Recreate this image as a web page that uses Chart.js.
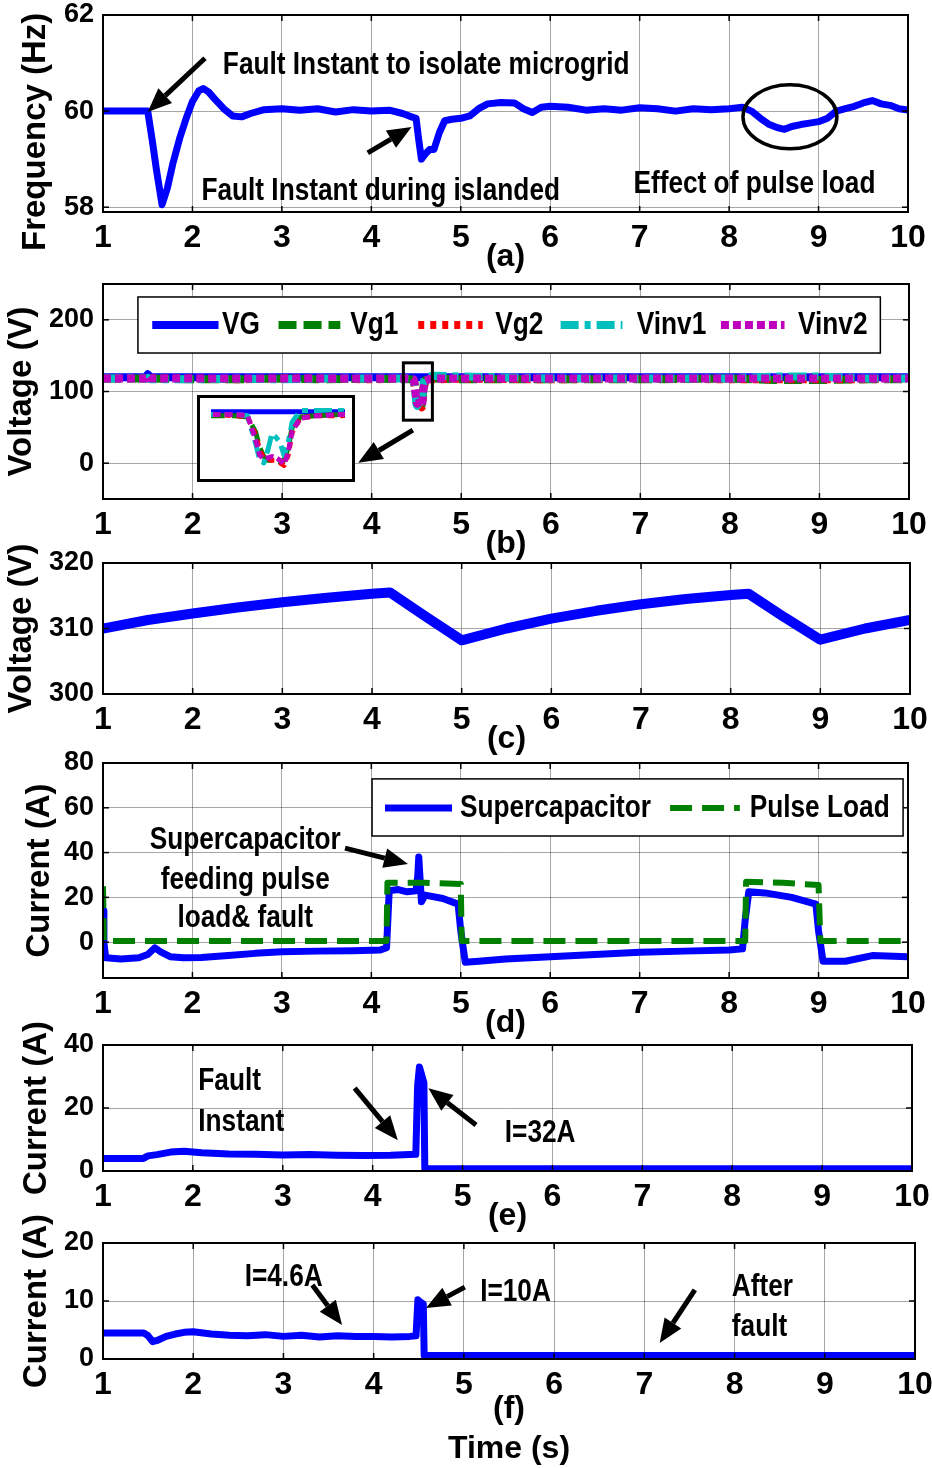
<!DOCTYPE html>
<html>
<head>
<meta charset="utf-8">
<script src="https://cdn.jsdelivr.net/npm/chart.js@4.4.0/dist/chart.umd.min.js"></script>
<style>
  html, body { margin: 0; padding: 0; background: #fff; }
  body { width: 932px; height: 1468px; position: relative; overflow: hidden; }
  #inset { position: absolute; left: 197px; top: 395px; width: 158px; height: 87px;
           box-sizing: border-box; border: 3px solid #000; background: #fff; }
</style>
</head>
<body>
<script>
const xTicks = [1, 2, 3, 4, 5, 6, 7, 8, 9, 10];

// (a) frequency
const tA = [1.0, 1.5, 1.55, 1.6, 1.66, 1.72, 1.78, 1.86, 1.93, 2.0, 2.07, 2.12, 2.18, 2.25, 2.35, 2.45, 2.55, 2.65, 2.8, 3.0,
  3.2, 3.4, 3.6, 3.8, 4.0, 4.2, 4.35, 4.45, 4.5, 4.53, 4.56, 4.6, 4.65, 4.7, 4.76, 4.82, 4.9, 5.0, 5.1, 5.2,
  5.3, 5.45, 5.6, 5.7, 5.8, 5.9, 6.0, 6.2, 6.4, 6.6, 6.8, 7.0, 7.2, 7.4, 7.6, 7.8, 8.0, 8.15, 8.25, 8.35,
  8.45, 8.55, 8.62, 8.7, 8.8, 8.9, 9.0, 9.1, 9.2, 9.3, 9.4, 9.5, 9.6, 9.7, 9.8, 9.9, 10.0];
const fA = [60.0, 60.0, 59.4, 58.75, 58.05, 58.4, 58.9, 59.45, 59.85, 60.2, 60.42, 60.47, 60.4, 60.25, 60.05, 59.9, 59.88, 59.95, 60.03, 60.05,
  60.02, 60.05, 59.98, 60.03, 60.0, 60.02, 59.95, 59.88, 59.85, 59.4, 59.0, 59.1, 59.2, 59.2, 59.55, 59.8, 59.83, 59.85, 59.9, 60.05,
  60.15, 60.18, 60.17, 60.05, 59.97, 60.08, 60.1, 60.08, 60.02, 60.05, 60.02, 60.07, 60.05, 60.0, 60.05, 60.03, 60.05, 60.08, 60.0, 59.85,
  59.72, 59.65, 59.62, 59.68, 59.72, 59.75, 59.78, 59.85, 60.0, 60.05, 60.1, 60.17, 60.22, 60.15, 60.12, 60.05, 60.02];
const yTicksA = [58, 60, 62];

// (b) ac voltages
const tB = [1.0, 1.48, 1.5, 1.53, 2.0, 2.5, 3.0, 3.5, 4.0, 4.38, 4.44, 4.47, 4.49, 4.5, 4.51, 4.52, 4.53, 4.54, 4.55, 4.56,
  4.57, 4.58, 4.6, 4.64, 4.7, 5.0, 6.0, 7.0, 8.0, 8.5, 9.0, 9.5, 10.0];
const vG = [120, 120, 124, 120, 120, 120, 120, 120, 120, 120, 120, 120, 120, 120, 120, 120, 120, 120, 120, 120,
  120, 120, 120, 120, 120, 120, 120, 120, 120, 120, 120, 120, 120];
const vg1 = [118, 118, 121, 118, 117, 117, 118, 117, 118, 117, 117, 116, 104, 92, 85, 82, 82, 81, 81, 82,
  92, 108, 116, 117, 118, 117, 117, 117, 118, 116, 116, 117, 117];
const vg2 = [118, 118, 120, 118, 118, 117, 118, 118, 117, 118, 117, 116, 102, 90, 84, 83, 82, 82, 80, 78,
  86, 104, 115, 117, 117, 118, 117, 118, 117, 117, 117, 117, 118];
const vinv1 = [118, 118, 119, 117, 117, 118, 117, 118, 118, 118, 118, 117, 95, 82, 80, 90, 103, 100, 96, 86,
  96, 112, 121, 121, 122, 121, 118, 118, 118, 121, 121, 118, 118];
const vinv2 = [118, 118, 122, 118, 118, 118, 118, 118, 118, 118, 118, 117, 98, 86, 83, 84, 85, 84, 82, 79,
  88, 105, 115, 117, 118, 118, 118, 118, 118, 118, 118, 118, 118];
const yTicksB = [0, 100, 200];

// (c) dc link voltage
const tC = [1.0, 1.5, 2.0, 2.5, 3.0, 3.5, 4.0, 4.2, 4.6, 5.0, 5.5, 6.0, 6.5, 7.0, 7.5, 8.0, 8.2, 8.6, 9.0, 9.5, 10.0];
const vC = [310.0, 311.3, 312.3, 313.2, 314.0, 314.7, 315.3, 315.5, 311.8, 308.2, 310.0, 311.5, 312.7, 313.7, 314.5, 315.1, 315.3, 311.7, 308.3, 310.0, 311.3];
const yTicksC = [300, 310, 320];

// (d) supercapacitor and pulse load currents
const tD = [1.0, 1.01, 1.03, 1.2, 1.4, 1.5, 1.58, 1.65, 1.75, 1.9, 2.1, 2.4, 2.7, 3.0, 3.4, 3.8, 4.1, 4.17, 4.2, 4.3,
  4.4, 4.5, 4.52, 4.53, 4.55, 4.56, 4.6, 4.8, 4.97, 5.0, 5.05, 5.2, 5.5, 6.0, 6.5, 7.0, 7.5, 8.0, 8.15, 8.18,
  8.22, 8.4, 8.7, 8.97, 9.0, 9.05, 9.3, 9.6, 10.0];
const iSC = [14, 0, -7, -7.5, -7, -5.5, -2.5, -4.5, -6.5, -7, -6.8, -6, -5, -4.3, -4, -3.8, -3.5, -2.5, 23, 23.5,
  22.5, 23, 30, 38, 25, 18, 21, 19.5, 17, 5, -9, -8.5, -7.5, -6.5, -5.5, -4.5, -4, -3.5, -3, 10,
  22.5, 22, 20, 17, 5, -8.5, -8.5, -6, -6.5];
const tP = [1.0, 1.01, 4.17, 4.18, 4.6, 5.0, 5.01, 8.18, 8.19, 8.6, 9.0, 9.02, 10.0];
const iPL = [25, 0.5, 0.5, 26.5, 26.5, 26, 0.5, 0.5, 27, 26.5, 25.5, 0.5, 0.5];
const yTicksD = [0, 20, 40, 60, 80];

// (e) fault current
const tE = [1.0, 1.45, 1.5, 1.6, 1.75, 1.9, 2.1, 2.4, 2.7, 3.0, 3.3, 3.6, 3.9, 4.2, 4.48, 4.5, 4.52, 4.55, 4.57, 4.58,
  4.62, 5.0, 6.0, 7.0, 8.0, 9.0, 10.0];
const iE = [4.0, 4.0, 4.8, 5.2, 6.0, 6.3, 5.8, 5.4, 5.3, 5.1, 5.2, 5.0, 4.9, 5.0, 5.3, 27, 33, 30, 28, 0.8,
  0.7, 0.7, 0.7, 0.7, 0.7, 0.7, 0.7];
const yTicksE = [0, 20, 40];

// (f) current
const tF = [1.0, 1.45, 1.5, 1.55, 1.6, 1.7, 1.8, 1.9, 2.0, 2.2, 2.4, 2.6, 2.8, 3.0, 3.2, 3.4, 3.6, 3.8, 4.0, 4.2,
  4.4, 4.47, 4.49, 4.52, 4.55, 4.56, 4.6, 5.0, 6.0, 7.0, 8.0, 9.0, 10.0];
const iF = [4.5, 4.5, 4.0, 3.0, 3.2, 3.9, 4.3, 4.6, 4.7, 4.3, 4.1, 4.0, 4.2, 3.9, 4.1, 3.8, 4.0, 3.9, 3.9, 3.8,
  3.9, 4.0, 10.2, 9.8, 9.5, 0.6, 0.6, 0.6, 0.6, 0.6, 0.6, 0.6, 0.6];
const yTicksF = [0, 10, 20];

const NARROW = '"Liberation Sans Narrow", "Arial Narrow", "Liberation Sans", Arial, sans-serif';
const WIDE = '"Liberation Sans", Arial, sans-serif';
const GRID = 'rgba(0,0,0,0.35)';

// is a condensed face really there? if not, squeeze the notes by hand
const probe = document.createElement('canvas').getContext('2d');
probe.font = 'bold 40px "Liberation Sans Narrow", monospace';
const wN = probe.measureText('abcdefgh').width;
probe.font = 'bold 40px monospace';
const NARROW_OK = wN !== probe.measureText('abcdefgh').width;

const pts = (xs, ys) => xs.map((x, i) => ({ x: x, y: ys[i] }));

function seg(ctx, x1, y1, x2, y2) {
  ctx.beginPath(); ctx.moveTo(x1, y1); ctx.lineTo(x2, y2); ctx.stroke();
}

function label(ctx, s, x, y, align) {
  ctx.font = 'bold 32px ' + NARROW;
  ctx.fillStyle = '#000';
  ctx.textBaseline = 'middle';
  ctx.textAlign = align || 'left';
  if (NARROW_OK) {
    ctx.fillText(s, x, y);
  } else {
    ctx.save(); ctx.translate(x, y); ctx.scale(0.82, 1); ctx.fillText(s, 0, 0); ctx.restore();
  }
}

function arrow(ctx, x1, y1, x2, y2) {
  const ang = Math.atan2(y2 - y1, x2 - x1), L = 24, W = 10;
  const bx = x2 - L * Math.cos(ang), by = y2 - L * Math.sin(ang);
  ctx.strokeStyle = '#000'; ctx.fillStyle = '#000'; ctx.lineWidth = 5;
  seg(ctx, x1, y1, bx, by);
  ctx.beginPath();
  ctx.moveTo(x2, y2);
  ctx.lineTo(bx + W * Math.sin(ang), by - W * Math.cos(ang));
  ctx.lineTo(bx - W * Math.sin(ang), by + W * Math.cos(ang));
  ctx.closePath(); ctx.fill();
}

// frame, matlab-style inner ticks, legends and notes
const notesPlugin = {
  id: 'notes',
  afterDraw(chart, args, o) {
    const ctx = chart.ctx, a = chart.chartArea;
    const sx = chart.scales.x, sy = chart.scales.y;
    const X = v => sx.getPixelForValue(v), Y = v => sy.getPixelForValue(v);
    ctx.save();
    if (o.frame) {
      ctx.strokeStyle = '#000'; ctx.lineWidth = 1.5;
      sx.ticks.forEach(t => { const p = X(t.value); seg(ctx, p, a.bottom, p, a.bottom - 6); seg(ctx, p, a.top, p, a.top + 6); });
      sy.ticks.forEach(t => { const p = Y(t.value); seg(ctx, a.left, p, a.left + 6, p); seg(ctx, a.right, p, a.right - 6, p); });
      ctx.lineWidth = 2;
      ctx.strokeRect(a.left, a.top, a.width, a.height);
    }
    (o.ellipses || []).forEach(e => {
      ctx.strokeStyle = '#000'; ctx.lineWidth = 3.5;
      ctx.beginPath();
      ctx.ellipse(X(e[0]), Y(e[1]), Math.abs(X(e[0] + e[2]) - X(e[0])), Math.abs(Y(e[1] + e[3]) - Y(e[1])), 0, 0, Math.PI * 2);
      ctx.stroke();
    });
    (o.rects || []).forEach(r => {
      ctx.strokeStyle = '#000'; ctx.lineWidth = 3;
      ctx.strokeRect(X(r[0]), Y(r[1]), X(r[2]) - X(r[0]), Y(r[3]) - Y(r[1]));
    });
    if (o.legend) {
      const L = o.legend;
      const x1 = X(L.box[0]), y1 = Y(L.box[1]), x2 = X(L.box[2]), y2 = Y(L.box[3]);
      ctx.fillStyle = '#fff'; ctx.fillRect(x1, y1, x2 - x1, y2 - y1);
      ctx.strokeStyle = '#000'; ctx.lineWidth = 1.5; ctx.strokeRect(x1, y1, x2 - x1, y2 - y1);
      const ry = Y(L.row);
      L.items.forEach(it => {
        const ds = chart.data.datasets[it.ds];
        ctx.strokeStyle = ds.borderColor; ctx.lineWidth = ds.borderWidth;
        ctx.setLineDash(ds.borderDash || []);
        seg(ctx, X(it.from), ry, X(it.to), ry);
        ctx.setLineDash([]);
        label(ctx, ds.label, X(it.text), ry, 'left');
      });
    }
    (o.arrows || []).forEach(r => arrow(ctx, X(r[0]), Y(r[1]), X(r[2]), Y(r[3])));
    (o.texts || []).forEach(t => label(ctx, t.s, X(t.x), Y(t.y), t.align));
    ctx.restore();
  }
};

function panel(p) {
  const padTop = 40;
  const cv = document.createElement('canvas');
  cv.width = 932;
  cv.height = p.bottom - p.top + padTop + p.axisH;
  cv.style.cssText = 'position:absolute;left:0;top:' + (p.top - padTop) + 'px';
  document.body.appendChild(cv);
  return new Chart(cv, {
    type: 'line',
    data: { datasets: p.datasets },
    options: {
      responsive: false,
      animation: false,
      devicePixelRatio: 1,
      layout: { padding: { top: padTop, right: 932 - p.right, left: 0, bottom: 0 } },
      elements: {
        point: { radius: 0 },
        line: { tension: 0, borderJoinStyle: 'round', borderCapStyle: 'butt' }
      },
      plugins: { legend: { display: false }, tooltip: { enabled: false }, notes: p.notes },
      scales: {
        x: {
          type: 'linear', min: 1, max: 10,
          afterBuildTicks: s => { s.ticks = xTicks.map(v => ({ value: v })); },
          afterFit: s => { s.height = p.axisH; s.paddingLeft = 0; s.paddingRight = 0; },
          grid: { color: GRID, lineWidth: 1, drawTicks: false },
          border: { display: false },
          ticks: { color: '#000', padding: 7, autoSkip: false, maxRotation: 0,
                   font: { family: NARROW, size: 32, weight: 'bold' } },
          title: { display: true, text: p.xTitle, color: '#000',
                   font: { family: NARROW, size: 32, weight: 'bold', lineHeight: 1.25 },
                   padding: { top: 0, bottom: p.xTitlePad } }
        },
        y: {
          min: p.yMin, max: p.yMax,
          afterBuildTicks: s => { s.ticks = p.yTicks.map(v => ({ value: v })); },
          afterFit: s => { s.width = 103; s.paddingTop = 0; s.paddingBottom = 0; },
          grid: { color: GRID, lineWidth: 1, drawTicks: false },
          border: { display: false },
          ticks: { color: '#000', padding: 9, font: { family: WIDE, size: 27, weight: 'bold' } },
          title: { display: true, text: p.yTitle, color: '#000',
                   font: { family: WIDE, size: 33, weight: 'bold', lineHeight: 1.2 },
                   padding: { top: p.yTitleX - 19.8, bottom: 0 } }
        }
      }
    },
    plugins: [notesPlugin]
  });
}

function voltSets(w) {
  return [
    { label: 'VG', data: pts(tB, vG), borderColor: '#0000ff', borderWidth: w, order: 5 },
    { label: 'Vg1', data: pts(tB, vg1), borderColor: '#008000', borderWidth: w, borderDash: [18, 7], order: 4 },
    { label: 'Vg2', data: pts(tB, vg2), borderColor: '#ff0000', borderWidth: w, borderDash: [6, 6], order: 3 },
    { label: 'Vinv1', data: pts(tB, vinv1), borderColor: '#00bfbf', borderWidth: w, borderDash: [18, 6, 6, 6], order: 2 },
    { label: 'Vinv2', data: pts(tB, vinv2), borderColor: '#bf00bf', borderWidth: w, borderDash: [8, 4], order: 1 }
  ];
}

panel({
  top: 15, bottom: 212, right: 908, yMin: 57.9, yMax: 62, yTicks: yTicksA, axisH: 72, xTitlePad: 7,
  yTitle: 'Frequency (Hz)\u00a0\u00a0\u00a0\u00a0', yTitleX: 36, xTitle: '(a)',
  datasets: [{ label: 'Frequency', data: pts(tA, fA), borderColor: '#0000ff', borderWidth: 7 }],
  notes: {
    frame: true,
    texts: [
      { s: 'Fault Instant to isolate microgrid', x: 2.34, y: 60.96 },
      { s: 'Fault Instant during islanded', x: 2.10, y: 58.34 },
      { s: 'Effect of pulse load', x: 6.93, y: 58.48 }
    ],
    arrows: [[2.14, 61.1, 1.50, 59.98], [3.96, 59.13, 4.45, 59.67]],
    ellipses: [[8.68, 59.88, 0.525, 0.666]]
  }
});

panel({
  top: 284, bottom: 499, right: 909, yMin: -50, yMax: 250, yTicks: yTicksB, axisH: 72, xTitlePad: 7,
  yTitle: 'Voltage (V)', yTitleX: 22, xTitle: '(b)',
  datasets: voltSets(8),
  notes: {
    frame: true,
    rects: [[4.354, 140, 4.678, 60]],
    arrows: [[4.46, 46, 3.85, 0.5]],
    legend: {
      box: [1.39, 231.9, 9.68, 153.7], row: 192.8,
      items: [
        { ds: 0, from: 1.55, to: 2.29, text: 2.33 },
        { ds: 1, from: 2.96, to: 3.65, text: 3.76 },
        { ds: 2, from: 4.52, to: 5.24, text: 5.38 },
        { ds: 3, from: 6.11, to: 6.80, text: 6.96 },
        { ds: 4, from: 7.90, to: 8.61, text: 8.76 }
      ]
    }
  }
});

// zoomed inset of the voltage dip
const insetBox = document.createElement('div');
insetBox.id = 'inset';
const insetCv = document.createElement('canvas');
insetCv.width = 152; insetCv.height = 81;
insetBox.appendChild(insetCv);
document.body.appendChild(insetBox);
new Chart(insetCv, {
  type: 'line',
  data: { datasets: voltSets(5) },
  options: {
    responsive: false, animation: false, devicePixelRatio: 1,
    layout: { padding: { left: 11, right: 7, top: 10, bottom: 11 } },
    elements: { point: { radius: 0 }, line: { tension: 0, borderJoinStyle: 'round' } },
    plugins: { legend: { display: false }, tooltip: { enabled: false } },
    scales: {
      x: { type: 'linear', min: 4.38, max: 4.71, display: false },
      y: { min: 76, max: 123, display: false }
    }
  }
});

panel({
  top: 563, bottom: 694, right: 910, yMin: 300, yMax: 320, yTicks: yTicksC, axisH: 72, xTitlePad: 7,
  yTitle: 'Voltage (V)', yTitleX: 22, xTitle: '(c)',
  datasets: [{ label: 'Vdc', data: pts(tC, vC), borderColor: '#0000ff', borderWidth: 10 }],
  notes: { frame: true }
});

panel({
  top: 763, bottom: 978, right: 908, yMin: -16, yMax: 80, yTicks: yTicksD, axisH: 72, xTitlePad: 7,
  yTitle: 'Current (A)', yTitleX: 40, xTitle: '(d)',
  datasets: [
    { label: 'Supercapacitor', data: pts(tD, iSC), borderColor: '#0000ff', borderWidth: 7, order: 2 },
    { label: 'Pulse Load', data: pts(tP, iPL), borderColor: '#008000', borderWidth: 6, borderDash: [22, 10], order: 1 }
  ],
  notes: {
    frame: true,
    texts: [
      { s: 'Supercapacitor', x: 2.59, y: 45.6, align: 'center' },
      { s: 'feeding pulse', x: 2.59, y: 27.8, align: 'center' },
      { s: 'load& fault', x: 2.59, y: 10.8, align: 'center' }
    ],
    arrows: [[3.706, 42.0, 4.41, 34.9]],
    legend: {
      box: [4.008, 72.9, 9.945, 47.4], row: 59.9,
      items: [
        { ds: 0, from: 4.153, to: 4.902, text: 4.99 },
        { ds: 1, from: 7.34, to: 8.12, text: 8.23 }
      ]
    }
  }
});

panel({
  top: 1045, bottom: 1171, right: 912, yMin: 0, yMax: 40, yTicks: yTicksE, axisH: 72, xTitlePad: 7,
  yTitle: 'Current (A)', yTitleX: 37, xTitle: '(e)',
  datasets: [{ label: 'Fault current', data: pts(tE, iE), borderColor: '#0000ff', borderWidth: 7 }],
  notes: {
    frame: true,
    texts: [
      { s: 'Fault', x: 2.06, y: 28.6 },
      { s: 'Instant', x: 2.06, y: 15.6 },
      { s: 'I=32A', x: 5.47, y: 12.1 }
    ],
    arrows: [[3.80, 26.3, 4.28, 9.8], [5.15, 14.6, 4.62, 26.3]]
  }
});

panel({
  top: 1243, bottom: 1359, right: 915, yMin: 0, yMax: 20, yTicks: yTicksF, axisH: 110, xTitlePad: 0,
  yTitle: 'Current (A)', yTitleX: 37, xTitle: ['(f)', 'Time (s)'],
  datasets: [{ label: 'Current', data: pts(tF, iF), borderColor: '#0000ff', borderWidth: 7 }],
  notes: {
    frame: true,
    texts: [
      { s: 'I=4.6A', x: 2.57, y: 14.1 },
      { s: 'I=10A', x: 5.18, y: 11.55 },
      { s: 'After', x: 7.97, y: 12.4 },
      { s: 'fault', x: 7.97, y: 5.5 }
    ],
    arrows: [[3.32, 12.76, 3.65, 5.86], [5.01, 12.4, 4.58, 8.8], [7.56, 11.9, 7.17, 2.76]]
  }
});
</script>
</body>
</html>
